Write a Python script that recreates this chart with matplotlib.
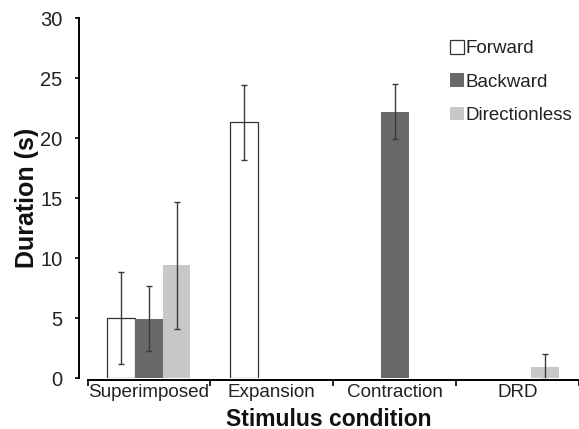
import numpy as np
import matplotlib.pyplot as plt

plt.rcParams['font.family'] = ['Liberation Sans', 'DejaVu Sans']

conditions = ["Superimposed", "Expansion", "Contraction", "DRD"]
series = ["Forward", "Backward", "Directionless"]
# mean durations (s); None = no bar
forward = [5.0, 21.3, None, None]
backward = [4.95, None, 22.2, None]
directionless = [9.4, None, None, 0.95]
forward_err = [3.85, 3.1, None, None]
backward_err = [2.7, None, 2.3, None]
directionless_err = [5.3, None, None, 1.05]

colors = ["white", "#686969", "#c8c8c8"]
edges = ["#333333", "none", "none"]

fig = plt.figure(figsize=(5.79, 4.29), dpi=100)
ax = fig.add_axes([79 / 579, 1 - 378 / 429, 1 - 79 / 579, 360 / 429])

x = np.arange(len(conditions))
w = 0.225
offsets = [-w, 0, w]
allvals = [forward, backward, directionless]
allerr = [forward_err, backward_err, directionless_err]

for k in range(3):
    xs = [x[i] + offsets[k] for i in range(4) if allvals[k][i] is not None]
    ys = [v for v in allvals[k] if v is not None]
    es = [e for e in allerr[k] if e is not None]
    ax.bar(xs, ys, width=w, color=colors[k], edgecolor=edges[k],
           linewidth=0.9, label=series[k], zorder=2)
    ax.errorbar(xs, ys, yerr=es, fmt="none", ecolor="#3a3a3a",
                elinewidth=1.0, capsize=2.5, capthick=1.0, zorder=3)

ax.set_xlim((79 - 150) / 124.7, (579 - 150) / 124.7)
ax.set_ylim(0, 30)
ax.set_yticks([0, 5, 10, 15, 20, 25, 30])
ax.tick_params(axis="y", labelsize=14.5, length=3, width=1.2, pad=9,
               labelcolor="#222222")
ax.set_xticks(x)
ax.set_xticklabels(conditions)
ax.set_xticks([-0.5, 0.5, 1.5, 2.5, 3.5], minor=True)
ax.tick_params(axis="x", which="major", length=0, labelsize=13.6, pad=2.5,
               labelcolor="#222222")
ax.tick_params(axis="x", which="minor", length=4, width=1.2)

for s in ["top", "right"]:
    ax.spines[s].set_visible(False)
ax.spines["left"].set_bounds(0, 30)
ax.spines["left"].set_linewidth(1.4)
ax.spines["bottom"].set_bounds(-0.5, 3.5)
ax.spines["bottom"].set_position(("outward", 1.5))
ax.spines["bottom"].set_linewidth(1.4)

ax.set_ylabel("Duration (s)", fontsize=18, fontweight="bold", labelpad=1,
              color="#111111")
ax.set_xlabel("Stimulus condition", fontsize=16.5, fontweight="bold", labelpad=5,
              color="#111111")

leg = ax.legend(loc="upper left", bbox_to_anchor=(450 / 579, 1 - 40 / 429),
                bbox_transform=fig.transFigure, frameon=False, fontsize=13.5,
                handlelength=0.72, handleheight=0.75, handletextpad=0.12,
                labelspacing=0.85, borderpad=0, borderaxespad=0)
for t in leg.get_texts():
    t.set_color("#222222")

fig.savefig("out.png", dpi=100)
